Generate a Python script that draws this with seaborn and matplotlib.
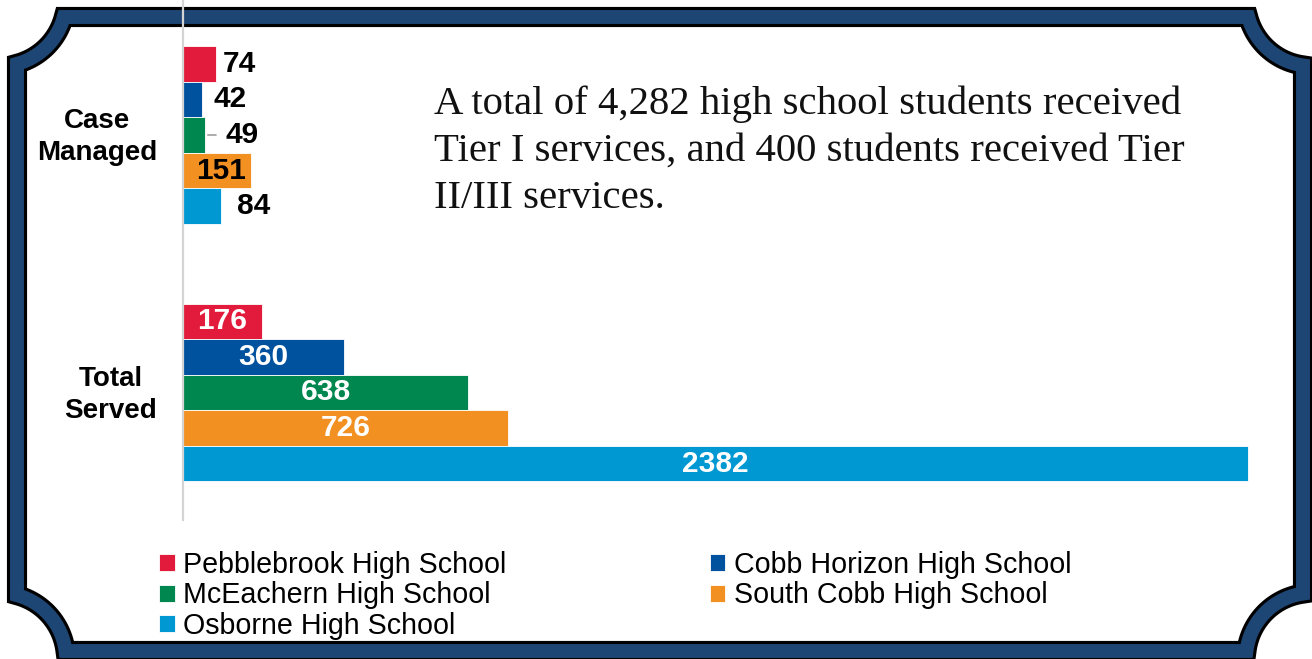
import numpy as np
import pandas as pd
import matplotlib
matplotlib.use("Agg")
import matplotlib.pyplot as plt
import matplotlib.transforms as mtransforms
from matplotlib.patches import Polygon
import seaborn as sns

# ---- data ----
categories = ["Case\nManaged", "Total\nServed"]
schools = ["Pebblebrook High School", "Cobb Horizon High School",
           "McEachern High School", "South Cobb High School",
           "Osborne High School"]
case_managed = [74, 42, 49, 151, 84]
total_served = [176, 360, 638, 726, 2382]
colors = ["#E21B3C", "#00519E", "#00874F", "#F39022", "#0098D3"]
note = ("A total of 4,282 high school students received\n"
        "Tier I services, and 400 students received Tier\n"
        "II/III services.")

rows = []
for s, v in zip(schools, case_managed):
    rows.append({"category": categories[0], "school": s, "value": v})
for s, v in zip(schools, total_served):
    rows.append({"category": categories[1], "school": s, "value": v})
df = pd.DataFrame(rows)

sns.set_style("white")
plt.rcParams["font.family"] = ["Liberation Sans", "DejaVu Sans"]

W, H = 1312, 659
fig = plt.figure(figsize=(W / 100, H / 100), dpi=100)

# ---- decorative frame (background axes in pixel coords) ----
bg = fig.add_axes([0, 0, 1, 1], zorder=0)
bg.set_xlim(0, W)
bg.set_ylim(H, 0)
bg.axis("off")

r = 66
top, left, right, bottom = 17, 17, 1303, 651

def arc(cx, cy, p0, p1, n=40):
    a0 = np.arctan2(p0[1] - cy, p0[0] - cx)
    a1 = np.arctan2(p1[1] - cy, p1[0] - cx)
    if a1 - a0 > np.pi:
        a1 -= 2 * np.pi
    if a0 - a1 > np.pi:
        a1 += 2 * np.pi
    t = np.linspace(a0, a1, n)
    return list(zip(cx + r * np.cos(t), cy + r * np.sin(t)))

dx_t = np.sqrt(r**2 - top**2)
dy_l = np.sqrt(r**2 - left**2)
dx_b = np.sqrt(r**2 - (H - bottom)**2)
dy_r = np.sqrt(r**2 - (W - right)**2)
pts = []
pts += arc(0, 0, (left, dy_l), (dx_t, top))
pts += arc(W, 0, (W - dx_t, top), (right, dy_r))
pts += arc(W, H, (right, H - dy_r), (W - dx_b, bottom))
pts += arc(0, H, (dx_b, bottom), (left, H - dy_l))
pts = np.array(pts)
bg.add_patch(Polygon(pts, closed=True, fill=False, edgecolor="black", lw=14.5,
                     joinstyle="miter"))
bg.add_patch(Polygon(pts, closed=True, fill=False, edgecolor="#1E4675", lw=10.0,
                     joinstyle="miter"))

# ---- chart axes ----
ax_left, ax_right = 183, 1290
ax_top, ax_bot = 0, 520
ax = fig.add_axes([ax_left / W, 1 - ax_bot / H, (ax_right - ax_left) / W, (ax_bot - ax_top) / H],
                  zorder=1)
ax.patch.set_alpha(0)

sns.barplot(data=df, y="category", x="value", hue="school", hue_order=schools,
            palette=colors, orient="h", width=0.69, gap=0, ax=ax,
            edgecolor="white", linewidth=0.6, saturation=1)

px_per_unit = 1065 / 2382
ax.set_xlim(0, (ax_right - ax_left) / px_per_unit)
g0, spacing = 135, 257.5
ax.set_ylim((ax_bot - g0) / spacing, (ax_top - g0) / spacing)

for sp in ["top", "right", "bottom"]:
    ax.spines[sp].set_visible(False)
ax.spines["left"].set_color("#D4D4D4")
ax.spines["left"].set_linewidth(1.6)
ax.set_xticks([])
ax.set_xlabel("")
ax.set_ylabel("")
ax.tick_params(axis="y", length=0, pad=18.5)
ax.set_yticks([0, 1])
ax.set_yticklabels(categories, fontsize=20, fontweight="bold", linespacing=1.3,
                   multialignment="center", color="black")
shift = mtransforms.ScaledTranslation(0, 3.5 / 100, fig.dpi_scale_trans)
for lbl in ax.get_yticklabels():
    lbl.set_transform(lbl.get_transform() + shift)

# ---- value labels ----
lab_font = dict(fontsize=21.5, fontweight="bold")
cm_offsets = [23, 28, 37, -29, 33]   # label centre offsets from bar end (px)
for i, cont in enumerate(ax.containers):
    bar_cm = cont.patches[0]
    bar_ts = cont.patches[1]
    y_cm = bar_cm.get_y() + bar_cm.get_height() / 2
    w_cm = bar_cm.get_width()
    ax.annotate(f"{case_managed[i]}", xy=(w_cm, y_cm), xytext=(cm_offsets[i] * 0.72, 0),
                textcoords="offset points", ha="center", va="center",
                color="black", **lab_font)
    if i == 2:
        ax.annotate("", xy=(w_cm, y_cm), xytext=(w_cm + 14 / px_per_unit, y_cm),
                    arrowprops=dict(arrowstyle="-", color="#8C8C8C", lw=1.0))
    y_ts = bar_ts.get_y() + bar_ts.get_height() / 2
    ax.text(bar_ts.get_width() / 2, y_ts, f"{total_served[i]}", ha="center",
            va="center", color="white", **lab_font)

# ---- legend ----
handles, labels = ax.get_legend_handles_labels()
order = [0, 2, 4, 1, 3]
if ax.get_legend():
    ax.get_legend().remove()
fig.legend([handles[k] for k in order], [labels[k] for k in order],
           ncol=2, loc="upper left", bbox_to_anchor=(159 / W, 1 - 551 / H),
           frameon=False, fontsize=20.6, handlelength=0.55, handleheight=0.55,
           handletextpad=0.3, columnspacing=7.1, labelspacing=0.08,
           borderaxespad=0, borderpad=0, labelcolor="black")

# ---- note text ----
fig.text(434 / W, 1 - 85 / H, note, ha="left", va="top", fontsize=29.3,
         family=["Liberation Serif", "DejaVu Serif"], linespacing=1.37, color="#111111")

fig.savefig("out.png", dpi=100)
